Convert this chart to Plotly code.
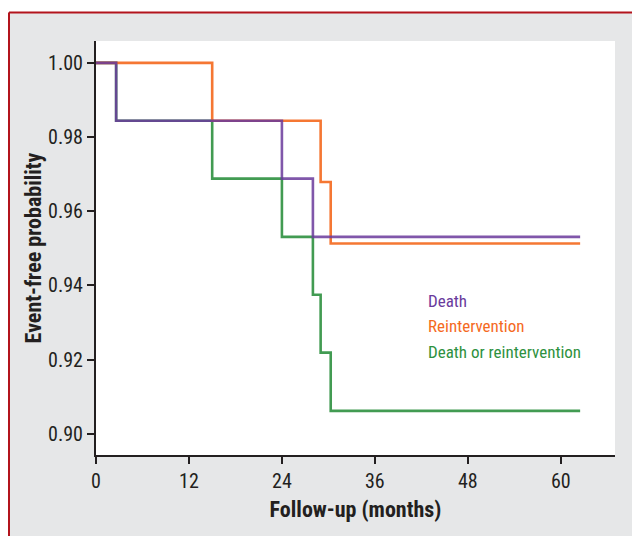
import plotly.graph_objects as go

# Data
death_t = [0, 2.6, 24, 28, 62.5]
death_s = [1.0, 0.9844, 0.9688, 0.9531, 0.9531]
reint_t = [0, 15, 29, 30.3, 62.5]
reint_s = [1.0, 0.9844, 0.9679, 0.9513, 0.9513]
comb_t = [0, 2.6, 15, 24, 28, 29, 30.3, 62.5]
comb_s = [1.0, 0.9844, 0.9688, 0.9531, 0.9375, 0.9219, 0.9062, 0.9062]

x_ticks = [0, 12, 24, 36, 48, 60]
y_ticks = [0.90, 0.92, 0.94, 0.96, 0.98, 1.00]
labels = ["Death", "Reintervention", "Death or reintervention"]
label_y = [0.9357, 0.9290, 0.9222]
label_x = 42.6

PURPLE = "#6a3a9c"
ORANGE = "#f5691e"
GREEN = "#2e9140"
TXT = "#231f20"
FONT = "Liberation Sans Narrow, Roboto Condensed, Arial Narrow, Liberation Sans, sans-serif"

fig = go.Figure()
fig.add_trace(go.Scatter(x=comb_t, y=comb_s, mode="lines", line=dict(color=GREEN, width=2.6, shape="hv"), opacity=0.9, name=labels[2]))
fig.add_trace(go.Scatter(x=reint_t, y=reint_s, mode="lines", line=dict(color=ORANGE, width=2.6, shape="hv"), opacity=0.9, name=labels[1]))
fig.add_trace(go.Scatter(x=death_t, y=death_s, mode="lines", line=dict(color=PURPLE, width=2.6, shape="hv"), opacity=0.85, name=labels[0]))

# legend as text labels
colors = [PURPLE, ORANGE, GREEN]
for lab, c, yy in zip(labels, colors, label_y):
    fig.add_annotation(x=label_x, y=yy, xref="x", yref="y", text=lab, showarrow=False,
                       xanchor="left", yanchor="middle", font=dict(family=FONT, size=17, color=c))

W, H = 640, 536
L, R, T, B = 88, 33, 33, 89
pw, ph = W - L - R, H - T - B

def px2paper_x(px):
    return (px - L) / pw

def px2paper_y(py):
    return (H - B - py) / ph

# white outer strip on top and red border lines
fig.add_shape(type="rect", xref="paper", yref="paper", x0=px2paper_x(-5), x1=px2paper_x(645),
              y0=px2paper_y(4), y1=px2paper_y(-5), fillcolor="white", line_width=0, layer="below")
fig.add_shape(type="line", xref="paper", yref="paper", x0=px2paper_x(1), x1=px2paper_x(645),
              y0=px2paper_y(4.5), y1=px2paper_y(4.5), line=dict(color="#b3141c", width=2))
fig.add_shape(type="line", xref="paper", yref="paper", x0=px2paper_x(1), x1=px2paper_x(1),
              y0=px2paper_y(4.5), y1=px2paper_y(545), line=dict(color="#b3141c", width=2))

fig.update_layout(
    width=W, height=H,
    margin=dict(l=L, r=R, t=T, b=B),
    paper_bgcolor="#e6e7e8",
    plot_bgcolor="white",
    showlegend=False,
    font=dict(family=FONT, size=16, color=TXT),
)
fig.update_xaxes(range=[0, 67], tickvals=x_ticks, ticks="outside", ticklen=7, tickwidth=2,
                 tickcolor=TXT, showline=True, linecolor=TXT, linewidth=2, showgrid=False,
                 zeroline=False, tickfont=dict(family=FONT, size=20, color=TXT),
                 title=dict(text="<b>Follow-up (months)</b>", font=dict(family=FONT, size=22, color=TXT), standoff=10))
fig.update_yaxes(range=[0.8943, 1.0059], tickvals=y_ticks, tickformat=".2f", ticks="outside", ticklen=7,
                 tickwidth=2, tickcolor=TXT, showline=True, linecolor=TXT, linewidth=2, showgrid=False,
                 zeroline=False, tickfont=dict(family=FONT, size=20, color=TXT),
                 title=dict(text="<b>Event-free probability</b>", font=dict(family=FONT, size=22, color=TXT), standoff=0))

fig.write_html("out.html")
